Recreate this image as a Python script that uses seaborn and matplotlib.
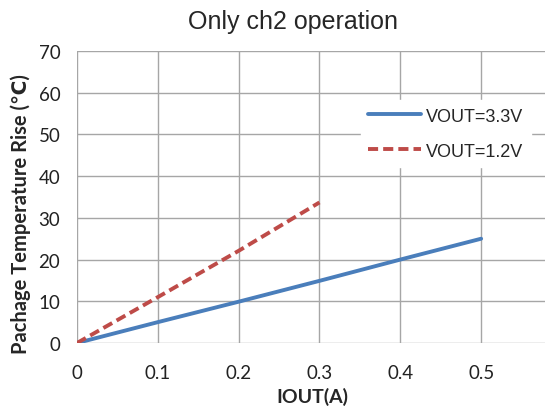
import seaborn as sns
import matplotlib.pyplot as plt
import pandas as pd

# Dados
iout_33 = [0.0, 0.1, 0.2, 0.3, 0.4, 0.5]
temp_33 = [0.0, 5.0, 9.9, 14.9, 20.0, 25.0]
iout_12 = [0.0, 0.1, 0.2, 0.3]
temp_12 = [0.0, 11.0, 22.1, 33.7]
series_names = ['VOUT=3.3V', 'VOUT=1.2V']

df = pd.concat([
    pd.DataFrame({'IOUT': iout_33, 'Temp': temp_33, 'Serie': series_names[0]}),
    pd.DataFrame({'IOUT': iout_12, 'Temp': temp_12, 'Serie': series_names[1]}),
])

sns.set_style('white')
plt.rcParams['font.family'] = ['Lato', 'DejaVu Sans']

fig = plt.figure(figsize=(5.45, 4.14), dpi=100)
ax = fig.add_axes([77 / 545, 70 / 414, 468 / 545, 292 / 414])

sns.lineplot(data=df, x='IOUT', y='Temp', hue='Serie', style='Serie',
             palette={'VOUT=3.3V': '#4a7ebb', 'VOUT=1.2V': '#be4b48'},
             dashes={'VOUT=3.3V': '', 'VOUT=1.2V': (2.6, 1.3)},
             linewidth=2.8, ax=ax, sort=False)

ax.set_xlim(0, 0.579)
ax.set_ylim(0, 70)
ax.set_xticks([0, 0.1, 0.2, 0.3, 0.4, 0.5])
ax.set_xticklabels(['0', '0.1', '0.2', '0.3', '0.4', '0.5'])
ax.set_yticks(range(0, 71, 10))
ax.grid(True, color='#a6a6a6', linewidth=1.0)
ax.set_axisbelow(True)
for s in ax.spines.values():
    s.set_visible(False)
ax.tick_params(axis='both', length=7, color='#a6a6a6', width=1.0,
               labelsize=13.5, colors='#222222', pad=5)
ax.tick_params(axis='x', pad=8)

ax.set_xlabel('IOUT(A)', fontsize=14, fontweight='bold')
ax.xaxis.set_label_coords((312 - 77) / 468, -44 / 292)
ax.set_ylabel('Pachage Temperature Rise (℃)', fontsize=14.5, fontweight='bold')
ax.yaxis.set_label_coords(-46 / 468, (344 - 214) / 292)

fig.text(293 / 545, 1 - 22 / 414, 'Only ch2 operation', ha='center', va='center',
         fontsize=18, family=['Liberation Sans', 'DejaVu Sans'])

leg = ax.legend(loc='upper left', bbox_to_anchor=(0.588, 0.862), frameon=True,
                handlelength=2.9, labelspacing=1.0, handletextpad=0.3,
                prop={'family': ['Liberation Sans', 'DejaVu Sans'], 'size': 13})
leg.get_frame().set_edgecolor('white')
leg.get_frame().set_facecolor('white')
leg.get_frame().set_alpha(1.0)

fig.savefig('out.png', dpi=100)
